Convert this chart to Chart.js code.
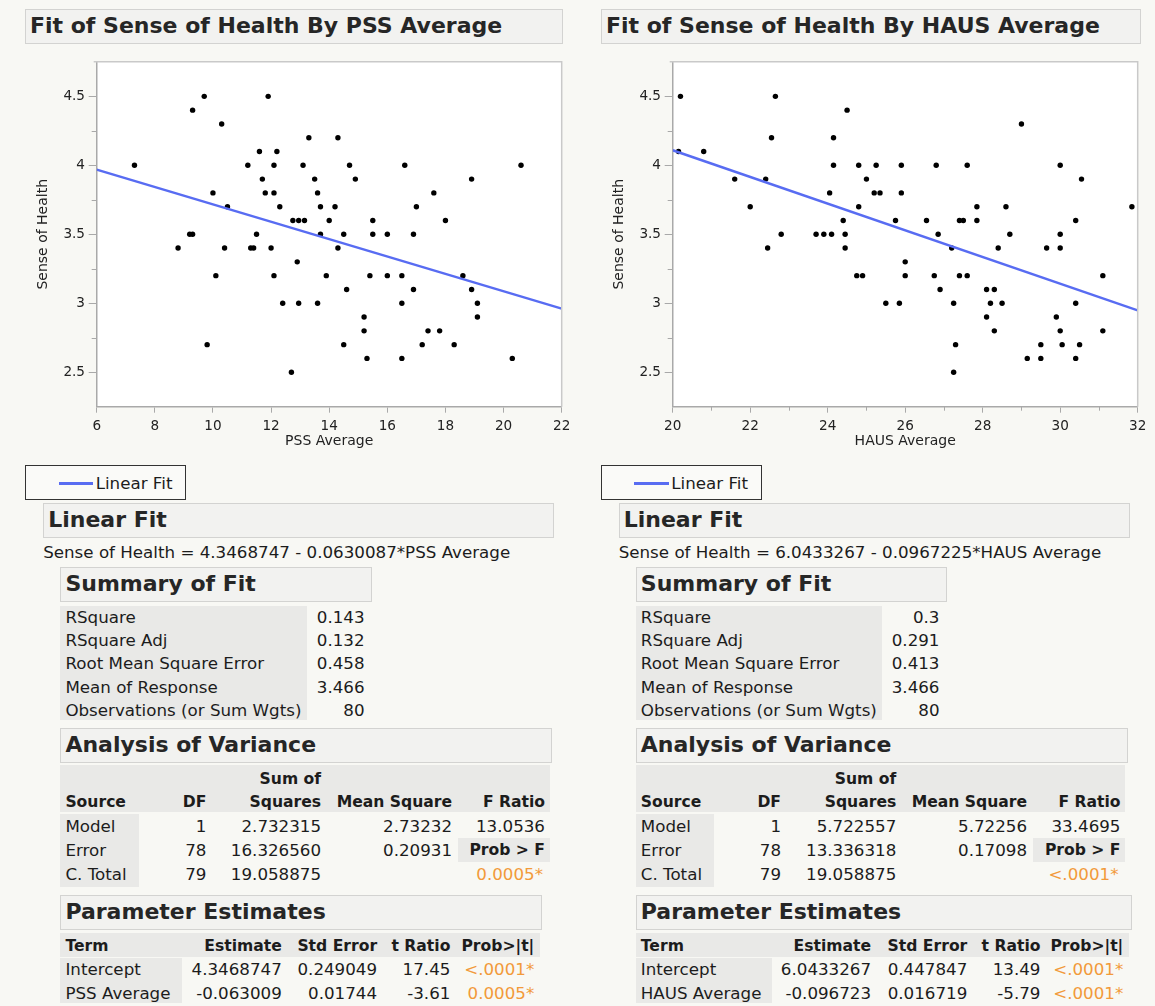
<!DOCTYPE html>
<html><head><meta charset="utf-8">
<script src="https://cdn.jsdelivr.net/npm/chart.js@4/dist/chart.umd.min.js"></script>
<style>
html,body{margin:0;padding:0;background:#f8f8f4;}
body{width:1155px;height:1006px;position:relative;overflow:hidden;font-family:"DejaVu Sans",sans-serif;color:#1c1c1c;}
canvas{position:absolute;}
.box{position:absolute;background:#f2f2f0;border:1.5px solid #d3d3d1;box-sizing:border-box;}
.hdr{position:absolute;left:4px;top:0;font-weight:bold;font-size:22px;color:#262626;white-space:nowrap;}
.gray{position:absolute;background:#e9e9e7;}
.t{position:absolute;white-space:nowrap;font-size:16.7px;line-height:20px;height:20px;}
.b{font-size:15.6px;font-weight:bold;}
.legend{position:absolute;border:1.5px solid #333;box-sizing:border-box;background:#fafaf8;}
</style></head><body>
<canvas id="c1" width="560" height="410" style="left:20px;top:50px;width:560px;height:410px"></canvas>
<canvas id="c2" width="560" height="410" style="left:595.6px;top:50px;width:560px;height:410px"></canvas>
<script>
// ---------------- DATA ----------------
const pssX = [7.3,9.3,9.7,10.3,11.9,11.2,11.6,12.2,12.1,11.7,11.8,12.1,12.3,10.0,10.5,9.2,9.3,11.5,8.8,10.4,11.3,11.4,12.0,12.9,10.1,12.1,12.4,12.95,9.8,12.7,
  13.3,14.3,13.1,14.7,16.6,20.6,13.5,14.9,18.9,13.6,17.6,13.7,14.2,17.0,12.75,12.95,13.15,14.0,15.5,18.0,13.7,14.5,15.5,16.0,16.9,14.3,
  13.9,15.4,16.0,16.5,18.6,14.6,16.9,18.9,13.6,16.5,19.1,15.2,19.1,15.2,17.4,17.8,14.5,17.2,18.3,15.3,16.5,20.3];
const pssY = [4.0,4.4,4.5,4.3,4.5,4.0,4.1,4.1,4.0,3.9,3.8,3.8,3.7,3.8,3.7,3.5,3.5,3.5,3.4,3.4,3.4,3.4,3.4,3.3,3.2,3.2,3.0,3.0,2.7,2.5,
  4.2,4.2,4.0,4.0,4.0,4.0,3.9,3.9,3.9,3.8,3.8,3.7,3.7,3.7,3.6,3.6,3.6,3.6,3.6,3.6,3.5,3.5,3.5,3.5,3.5,3.4,
  3.2,3.2,3.2,3.2,3.2,3.1,3.1,3.1,3.0,3.0,3.0,2.9,2.9,2.8,2.8,2.8,2.7,2.7,2.7,2.6,2.6,2.6];
const hausX = [20.2,20.15,20.8,21.6,22.4,22.0,22.65,22.55,22.8,22.45,24.5,24.15,24.15,24.8,25.25,25.0,24.05,25.2,25.35,24.8,24.4,23.7,23.9,24.1,24.45,24.45,24.75,24.9,
  29.0,25.9,26.8,27.6,30.0,30.55,25.9,27.85,28.6,31.85,25.75,26.55,27.4,27.5,27.85,30.4,26.85,28.7,30.0,27.2,28.4,29.65,30.0,
  26.0,26.0,26.75,27.4,27.6,31.1,26.9,28.1,28.3,25.5,25.85,27.25,28.2,28.5,30.4,28.1,29.9,28.3,30.0,31.1,27.3,29.5,30.05,30.5,29.15,29.5,30.4,27.25];
const hausY = [4.5,4.1,4.1,3.9,3.9,3.7,4.5,4.2,3.5,3.4,4.4,4.2,4.0,4.0,4.0,3.9,3.8,3.8,3.8,3.7,3.6,3.5,3.5,3.5,3.5,3.4,3.2,3.2,
  4.3,4.0,4.0,4.0,4.0,3.9,3.8,3.7,3.7,3.7,3.6,3.6,3.6,3.6,3.6,3.6,3.5,3.5,3.5,3.4,3.4,3.4,3.4,
  3.3,3.2,3.2,3.2,3.2,3.2,3.1,3.1,3.1,3.0,3.0,3.0,3.0,3.0,3.0,2.9,2.9,2.8,2.8,2.8,2.7,2.7,2.7,2.7,2.6,2.6,2.6,2.5];
const pssFitX = [6, 22];
const pssFitY = [3.969, 2.961];
const hausFitX = [20, 32];
const hausFitY = [4.109, 2.948];

const yTicks = [2.5, 3, 3.5, 4, 4.5];
const yTickLabels = ['2.5', '3', '3.5', '4', '4.5'];
const yMinor = [2.75, 3.25, 3.75, 4.25];
const pssTicks = [6, 8, 10, 12, 14, 16, 18, 20, 22];
const pssTickLabels = ['6','8','10','12','14','16','18','20','22'];
const pssMinor = [];
const hausTicks = [20, 22, 24, 26, 28, 30, 32];
const hausTickLabels = ['20','22','24','26','28','30','32'];
const hausMinor = [21, 23, 25, 27, 29, 31];

const titles = ['Fit of Sense of Health By PSS Average', 'Fit of Sense of Health By HAUS Average'];
const xTitles = ['PSS Average', 'HAUS Average'];
const equations = ['Sense of Health = 4.3468747 - 0.0630087*PSS Average', 'Sense of Health = 6.0433267 - 0.0967225*HAUS Average'];
const summaryLabels = ['RSquare', 'RSquare Adj', 'Root Mean Square Error', 'Mean of Response', 'Observations (or Sum Wgts)'];
const pssSummary = ['0.143', '0.132', '0.458', '3.466', '80'];
const hausSummary = ['0.3', '0.291', '0.413', '3.466', '80'];
const anovaSources = ['Model', 'Error', 'C. Total'];
const anovaDF = ['1', '78', '79'];
const pssSS = ['2.732315', '16.326560', '19.058875'];
const pssMS = ['2.73232', '0.20931', ''];
const pssF = '13.0536', pssProbF = '0.0005*';
const hausSS = ['5.722557', '13.336318', '19.058875'];
const hausMS = ['5.72256', '0.17098', ''];
const hausF = '33.4695', hausProbF = '<.0001*';
const pssTerms = ['Intercept', 'PSS Average'];
const pssEst = ['4.3468747', '-0.063009'];
const pssSE = ['0.249049', '0.01744'];
const pssT = ['17.45', '-3.61'];
const pssP = ['<.0001*', '0.0005*'];
const hausTerms = ['Intercept', 'HAUS Average'];
const hausEst = ['6.0433267', '-0.096723'];
const hausSE = ['0.447847', '0.016719'];
const hausT = ['13.49', '-5.79'];
const hausP = ['<.0001*', '<.0001*'];

// ---------------- STYLE ----------------
const FIT = 'rgb(88,108,242)';
const ORANGE = '#f29a3a';
const AXIS = '#a9a9a9';
const FONT = 'DejaVu Sans';

// ---------------- CHARTS ----------------
function makeChart(id, xs, ys, fx, fy, xMin, xMax, xTicks, xLabels, xMinor, xTitle) {
  const pts = xs.map((x, i) => ({x: x, y: ys[i]}));
  const line = fx.map((x, i) => ({x: x, y: fy[i]}));
  const frame = {
    id: 'frame',
    beforeDraw(chart) {
      const {ctx, chartArea: a} = chart;
      ctx.save(); ctx.fillStyle = '#ffffff';
      ctx.fillRect(a.left, a.top, a.right - a.left, a.bottom - a.top);
      ctx.restore();
    },
    afterDraw(chart) {
      const {ctx, chartArea: a, scales} = chart;
      ctx.save();
      ctx.strokeStyle = '#c9c9c9'; ctx.lineWidth = 1.5;
      ctx.beginPath(); ctx.moveTo(a.left - 3, a.top); ctx.lineTo(a.right, a.top); ctx.lineTo(a.right, a.bottom); ctx.stroke();
      ctx.strokeStyle = AXIS; ctx.lineWidth = 1;
      ctx.beginPath();
      yMinor.forEach(v => { const p = Math.round(scales.y.getPixelForValue(v)) + 0.5; ctx.moveTo(a.left - 5, p); ctx.lineTo(a.left, p); });
      xMinor.forEach(v => { const p = Math.round(scales.x.getPixelForValue(v)) + 0.5; ctx.moveTo(p, a.bottom); ctx.lineTo(p, a.bottom + 4); });
      ctx.stroke();
      ctx.restore();
    }
  };
  return new Chart(document.getElementById(id), {
    type: 'scatter',
    data: {datasets: [
      {type: 'line', data: line, borderColor: FIT, borderWidth: 2.5, pointRadius: 0, fill: false, showLine: true},
      {type: 'scatter', data: pts, backgroundColor: '#000', borderWidth: 0, pointRadius: 2.7, pointHoverRadius: 2.7}
    ]},
    options: {
      responsive: false, animation: false, devicePixelRatio: 1,
      layout: {padding: {top: 8.3, right: 18.3, left: 0, bottom: 0}},
      plugins: {legend: {display: false}, tooltip: {enabled: false}},
      events: [],
      scales: {
        x: {
          type: 'linear', min: xMin, max: xMax,
          afterBuildTicks: s => { s.ticks = xTicks.map(v => ({value: v})); },
          afterFit: s => { s.height = 53.3; },
          grid: {drawOnChartArea: false, tickLength: 6, tickColor: AXIS, tickWidth: 1},
          border: {color: AXIS, width: 1.5},
          ticks: {padding: 5.5, color: '#222', autoSkip: false, maxRotation: 0, font: {family: FONT, size: 13.6},
                  callback: (v, i) => xLabels[i]},
          title: {display: true, text: xTitle, color: '#222', font: {family: FONT, size: 14}, padding: {top: 0, bottom: 10.4}}
        },
        y: {
          type: 'linear', min: 2.25, max: 4.75,
          afterBuildTicks: s => { s.ticks = yTicks.map(v => ({value: v})); },
          afterFit: s => { s.width = 76.7; },
          grid: {drawOnChartArea: false, tickLength: 8, tickColor: AXIS, tickWidth: 1},
          border: {color: AXIS, width: 1.5},
          ticks: {padding: 3.7, color: '#222', autoSkip: false, font: {family: FONT, size: 13.6},
                  callback: (v, i) => yTickLabels[i]},
          title: {display: true, text: 'Sense of Health', color: '#222', font: {family: FONT, size: 14}, padding: {top: 14.6, bottom: 0}}
        }
      }
    },
    plugins: [frame]
  });
}
makeChart('c1', pssX, pssY, pssFitX, pssFitY, 6, 22, pssTicks, pssTickLabels, pssMinor, xTitles[0]);
makeChart('c2', hausX, hausY, hausFitX, hausFitY, 20, 32, hausTicks, hausTickLabels, hausMinor, xTitles[1]);

// ---------------- REPORT TEXT ----------------
function add(cls, css, text) {
  const d = document.createElement('div'); d.className = cls; Object.assign(d.style, css);
  if (text != null) d.textContent = text; document.body.appendChild(d); return d;
}
function hbox(x, y, w, h, text) {
  const d = add('box', {left: x + 'px', top: y + 'px', width: w + 'px', height: h + 'px'});
  const s = document.createElement('div'); s.className = 'hdr'; s.style.lineHeight = (h - 3) + 'px'; s.textContent = text; d.appendChild(s);
}
function gray(x, y, w, h) { add('gray', {left: x + 'px', top: y + 'px', width: w + 'px', height: h + 'px'}); }
function tl(x, yc, text, bold, color) {
  add(bold ? 't b' : 't', {left: x + 'px', top: (yc - 10) + 'px', color: color || '#1c1c1c'}, text);
}
function tr(xr, yc, text, bold, color) {
  add(bold ? 't b' : 't', {left: (xr - 300) + 'px', width: '300px', textAlign: 'right', top: (yc - 10) + 'px', color: color || '#1c1c1c'}, text);
}

const layouts = [
  {title: [25, 9, 538], legend: 25.4, lf: [43.2, 511], sum: [60.4, 312, 247, 364.6], anova: [60.4, 491.7, 489.2, 78.2],
   acol: [206.4, 321.1, 452.1, 545], probCell: [457.5, 92.1], probRight: 543, param: [60.4, 481.7, 479.2, 122.1], pcol: [281.8, 377.1, 450.4, 534.3]},
  {title: [601, 9, 540], legend: 601, lf: [618.7, 511], sum: [635.8, 311.7, 246.1, 939.5], anova: [635.8, 491.9, 489.4, 77.8],
   acol: [781, 896.3, 1027.1, 1120.5], probCell: [1032.5, 92.7], probRight: 1118.5, param: [635.8, 495.8, 492.9, 136.2], pcol: [871.1, 967.3, 1040.5, 1123.3]}
];
const reports = [
  {summary: pssSummary, ss: pssSS, ms: pssMS, f: pssF, pf: pssProbF, terms: pssTerms, est: pssEst, se: pssSE, t: pssT, p: pssP},
  {summary: hausSummary, ss: hausSS, ms: hausMS, f: hausF, pf: hausProbF, terms: hausTerms, est: hausEst, se: hausSE, t: hausT, p: hausP}
];
const sumRows = [616.7, 640, 663.3, 686.7, 710];
const anovaRows = [825.7, 850, 874.3];
const paramRows = [969.3, 992.7];

layouts.forEach((L, k) => {
  const R = reports[k];
  hbox(L.title[0], L.title[1], L.title[2], 35, titles[k]);
  // legend
  add('legend', {left: L.legend + 'px', top: '465px', width: '161px', height: '35px'});
  add('', {position: 'absolute', left: (L.legend + 33.2) + 'px', top: '482px', width: '34.6px', height: '2.5px', background: FIT});
  tl(L.legend + 70.3, 483, 'Linear Fit');
  // linear fit
  hbox(L.lf[0], 503, L.lf[1], 35, 'Linear Fit');
  tl(L.lf[0], 552, equations[k]);
  // summary of fit
  hbox(L.sum[0], 567, L.sum[1], 35, 'Summary of Fit');
  gray(L.sum[0], 605.7, L.sum[2], 114.3);
  summaryLabels.forEach((s, i) => { tl(L.sum[0] + 5, sumRows[i], s); tr(L.sum[3], sumRows[i], R.summary[i]); });
  // analysis of variance
  hbox(L.anova[0], 728.3, L.anova[1], 35, 'Analysis of Variance');
  gray(L.anova[0], 765, L.anova[2], 47.3);
  gray(L.anova[0], 814, L.anova[3], 72.7);
  gray(L.probCell[0], 838.3, L.probCell[1], 23.4);
  tr(L.acol[1], 779, 'Sum of', true);
  tl(L.anova[0] + 5, 802.3, 'Source', true);
  tr(L.acol[0], 802.3, 'DF', true);
  tr(L.acol[1], 802.3, 'Squares', true);
  tr(L.acol[2], 802.3, 'Mean Square', true);
  tr(L.acol[3], 802.3, 'F Ratio', true);
  anovaSources.forEach((s, i) => {
    tl(L.anova[0] + 5, anovaRows[i], s);
    tr(L.acol[0], anovaRows[i], anovaDF[i]);
    tr(L.acol[1], anovaRows[i], R.ss[i]);
    tr(L.acol[2], anovaRows[i], R.ms[i]);
  });
  tr(L.acol[3], anovaRows[0], R.f);
  tr(L.acol[3], anovaRows[1], 'Prob > F', true);
  tr(L.probRight, anovaRows[2], R.pf, false, ORANGE);
  // parameter estimates
  hbox(L.param[0], 895, L.param[1], 35, 'Parameter Estimates');
  gray(L.param[0], 933.3, L.param[2], 23.4);
  gray(L.param[0], 958, L.param[3], 45);
  tl(L.param[0] + 5, 946, 'Term', true);
  tr(L.pcol[0], 946, 'Estimate', true);
  tr(L.pcol[1], 946, 'Std Error', true);
  tr(L.pcol[2], 946, 't Ratio', true);
  tr(L.pcol[3], 946, 'Prob>|t|', true);
  R.terms.forEach((s, i) => {
    tl(L.param[0] + 5, paramRows[i], s);
    tr(L.pcol[0], paramRows[i], R.est[i]);
    tr(L.pcol[1], paramRows[i], R.se[i]);
    tr(L.pcol[2], paramRows[i], R.t[i]);
    tr(L.pcol[3], paramRows[i], R.p[i], false, ORANGE);
  });
});
</script>
</body></html>
